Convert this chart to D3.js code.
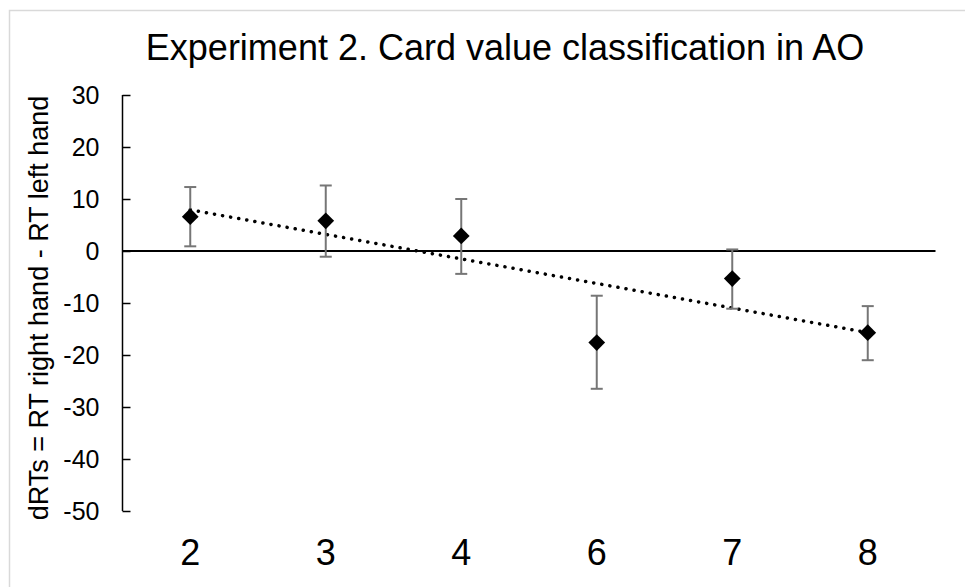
<!DOCTYPE html>
<html>
<head>
<meta charset="utf-8">
<title>Experiment 2</title>
<script src="https://cdn.jsdelivr.net/npm/d3@7/dist/d3.min.js"></script>
<style>
  body { margin: 0; background: #fff; }
  text { font-family: "Liberation Sans", Arial, sans-serif; fill: #000; }
</style>
</head>
<body>
<div id="chart"></div>
<script>
  // data
  var cards = ["2", "3", "4", "6", "7", "8"];
  var means = [6.6, 5.8, 2.9, -17.6, -5.3, -15.7];
  var upper = [12.3, 12.6, 10.0, -8.6, 0.3, -10.6];
  var lower = [0.9, -1.1, -4.4, -26.5, -11.1, -21.0];
  var yTicks = [-50, -40, -30, -20, -10, 0, 10, 20, 30];

  var width = 965, height = 587;
  var svg = d3.select("#chart").append("svg")
    .attr("width", width)
    .attr("height", height);

  // chart area border
  svg.append("rect")
    .attr("x", 9.5).attr("y", 10.5)
    .attr("width", 1000).attr("height", 1000)
    .attr("fill", "none")
    .attr("stroke", "#d9d9d9")
    .attr("stroke-width", 1.5);

  var x = d3.scaleBand().domain(cards).range([122.5, 935.5]);
  var y = d3.scaleLinear().domain([-50, 30]).range([511, 95]);
  var cx = function(d) { return x(d) + x.bandwidth() / 2; };

  svg.append("text")
    .attr("x", 505).attr("y", 60)
    .attr("text-anchor", "middle")
    .style("font-size", "36px")
    .text("Experiment 2. Card value classification in AO");

  // y axis, ticks pointing inward
  var yAxis = svg.append("g")
    .attr("transform", "translate(122.5,0)")
    .call(d3.axisLeft(y).tickValues(yTicks).tickFormat(String)
      .tickSize(-8).tickPadding(23).tickSizeOuter(0));
  yAxis.select(".domain").attr("stroke", "#000").attr("stroke-width", 1.5)
    .attr("d", "M0," + y(30) + "V" + y(-50));
  yAxis.selectAll(".tick line").attr("stroke", "#000").attr("stroke-width", 1.5);
  yAxis.selectAll(".tick text").style("font-size", "25px").attr("font-family", null);

  svg.append("text")
    .attr("transform", "translate(48,308) rotate(-90)")
    .attr("text-anchor", "middle")
    .style("font-size", "27px")
    .text("dRTs = RT right hand - RT left hand");

  // zero line
  svg.append("line")
    .attr("x1", 122.5).attr("x2", 935.5)
    .attr("y1", y(0)).attr("y2", y(0))
    .attr("stroke", "#000").attr("stroke-width", 2);

  // category labels
  svg.selectAll("text.cat").data(cards).enter().append("text")
    .attr("class", "cat")
    .attr("x", cx)
    .attr("y", 565)
    .attr("text-anchor", "middle")
    .style("font-size", "36px")
    .text(function(d) { return d; });

  // linear trend over category index
  var idx = d3.range(1, cards.length + 1);
  var mx = d3.mean(idx), my = d3.mean(means);
  var slope = d3.sum(idx, function(v, i) { return (v - mx) * (means[i] - my); }) /
              d3.sum(idx, function(v) { return (v - mx) * (v - mx); });
  var icpt = my - slope * mx;
  svg.append("line")
    .attr("x1", cx(cards[0])).attr("y1", y(icpt + slope * 1))
    .attr("x2", cx(cards[cards.length - 1])).attr("y2", y(icpt + slope * cards.length))
    .attr("stroke", "#000").attr("stroke-width", 3.5)
    .attr("stroke-linecap", "round")
    .attr("stroke-dasharray", "0.1 8.1");

  // error bars
  var err = svg.selectAll("g.err").data(cards).enter().append("g").attr("class", "err")
    .attr("stroke", "#767676").attr("stroke-width", 2);
  err.append("line")
    .attr("x1", cx).attr("x2", cx)
    .attr("y1", function(d, i) { return y(upper[i]); })
    .attr("y2", function(d, i) { return y(lower[i]); });
  err.append("line")
    .attr("x1", function(d) { return cx(d) - 6; }).attr("x2", function(d) { return cx(d) + 6; })
    .attr("y1", function(d, i) { return y(upper[i]); })
    .attr("y2", function(d, i) { return y(upper[i]); });
  err.append("line")
    .attr("x1", function(d) { return cx(d) - 6; }).attr("x2", function(d) { return cx(d) + 6; })
    .attr("y1", function(d, i) { return y(lower[i]); })
    .attr("y2", function(d, i) { return y(lower[i]); });

  // diamond markers
  svg.selectAll("path.pt").data(cards).enter().append("path")
    .attr("class", "pt")
    .attr("d", d3.symbol().type(d3.symbolSquare).size(140))
    .attr("transform", function(d, i) { return "translate(" + cx(d) + "," + y(means[i]) + ") rotate(45)"; })
    .attr("fill", "#000");
</script>
</body>
</html>
